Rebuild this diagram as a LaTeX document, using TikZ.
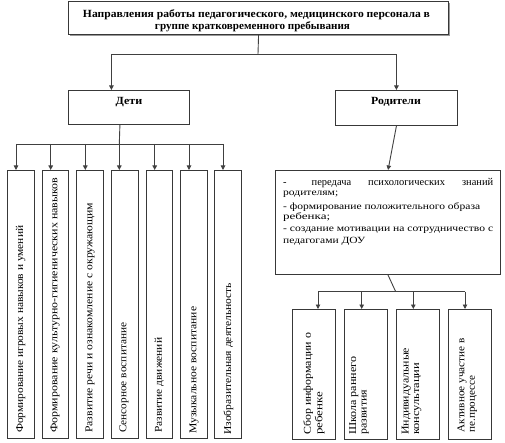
\documentclass[tikz,border=0pt]{standalone}
\usepackage{fontspec}
\setmainfont{Liberation Serif}
\usetikzlibrary{arrows.meta,shadows}
\newcommand\fitw[2]{\resizebox{#1bp}{\height}{#2}}
\begin{document}
\begin{tikzpicture}[x=1bp,y=-1bp,
  box/.style={draw=black!78,line width=1.1bp,inner sep=0pt,anchor=north west,fill=white},
  conn/.style={draw=black!75,line width=0.9bp},
  arr/.style={conn,-{Triangle[length=4.5bp,width=4.5bp]}},
  vtext/.style={rotate=90,anchor=west,inner sep=0pt,font=\fontsize{10.5}{10.5}\selectfont},
  ltext/.style={anchor=west,inner sep=0pt,font=\fontsize{9.5}{9.5}\selectfont},
  ttl/.style={inner sep=0pt,font=\bfseries\fontsize{11}{11}\selectfont}]
\useasboundingbox (0,0) rectangle (505,443);
% top box
\node[box,minimum width=380bp,minimum height=33bp,
  drop shadow={shadow xshift=1.2bp,shadow yshift=-1.2bp,fill=black!40,opacity=1}] (top) at (68,1) {};
\node[ttl] (t1) at (256.5,15) {\fitw{347}{Направления работы педагогического, медицинского персонала в}};
\node[ttl] (t2) at (252.5,27) {\fitw{195}{группе кратковременного пребывания}};
% second level
\node[box,minimum width=121.3bp,minimum height=34bp] (deti) at (67.7,90) {};
\node[ttl] (detitxt) at (129,102) {\fitw{26.7}{Дети}};
\node[box,minimum width=121.7bp,minimum height=35bp] (rod) at (335,90) {};
\node[ttl] (rodtxt) at (396,102) {\fitw{49.7}{Родители}};
\coordinate (jt) at (258,54);
\draw[conn] (top.south) -- (jt);
\draw[arr] (jt) -| ([xshift=-17.5bp]deti.north);
\draw[arr] (jt) -| (rod.north);
% children boxes
\foreach \i/\xl/\xa/\xt/\yb/\w/\t in {1/7.3/16/20.7/433/207/{Формирование игровых навыков и умений},
  2/41.7/50.7/55/433/255/{Формирование культурно-гигиенических навыков},
  3/76.3/85.3/90/433/230/{Развитие речи и ознакомление с окружающим},
  4/111/119.3/124/433/110/{Сенсорное воспитание},
  5/145.7/154.7/159.3/433/95/{Развитие движений},
  6/180/189/194/434/127/{Музыкальное воспитание},
  7/214/223/228.5/435/152/{Изобразительная деятельность}}{
  \node[box,minimum width=26.5bp,minimum height=268bp] (c\i) at (\xl,170) {};
  \node[vtext] (ct\i) at (\xt,\yb) {\fitw{\w}{\t}};
  \coordinate (d\i) at (\xa,144);
  \draw[arr] (d\i) -- (\xa,170);
}
\coordinate (jd) at (119.3,144);
\draw[conn] ([xshift=-9bp]deti.south) -- (jd);
\draw[conn] (d1) -- (d7);
% parents text box
\node[box,minimum width=225bp,minimum height=104bp] (ptxt) at (275,170) {};
\draw[arr] (rod.south) -- (ptxt.north);
\node[ltext] (l1) at (283,183) {\fontsize{10.5}{10.5}\selectfont\makebox[210bp][s]{-\hspace{8bp} передача психологических знаний}};
\node[ltext] (l2) at (283,194) {\fitw{55}{родителям;}};
\node[ltext] (l3) at (283,206.7) {\fitw{197}{- формирование положительного образа}};
\node[ltext] (l4) at (283,217.3) {\fitw{47}{ребенка;}};
\node[ltext] (l5) at (283,230) {\fitw{210}{- создание мотивации на сотрудничество с}};
\node[ltext] (l6) at (283,241) {\fitw{82}{педагогами ДОУ}};
% parents children
\coordinate (jp) at (395.7,291.7);
\draw[conn] (ptxt.south) -- (jp);
\foreach \i/\xl/\xa/\xt/\yb/\wa/\wb/\ta/\tb in {1/292.3/318/314/435/102/43/{Сбор информации о}/{ребенке},
  2/344/361.7/359.5/435/78/45/{Школа раннего}/{развития},
  3/395.7/413.3/412/435/87/72/{Индивидуальные}/{консультации},
  4/447.7/465/467.8/432.5/94/57/{Активное участие в}/{пе.процессе}}{
  \node[box,minimum width=43bp,minimum height=130bp] (p\i) at (\xl,309) {};
  \node[vtext] (pa\i) at (\xt-5.8,\yb) {\fitw{\wa}{\ta}};
  \node[vtext] (pb\i) at (\xt+5.8,\yb) {\fitw{\wb}{\tb}};
  \coordinate (e\i) at (\xa,291.7);
  \draw[arr] (e\i) -- (\xa,309);
}
\draw[conn] (e1) -- (e4);
\end{tikzpicture}
\end{document}
